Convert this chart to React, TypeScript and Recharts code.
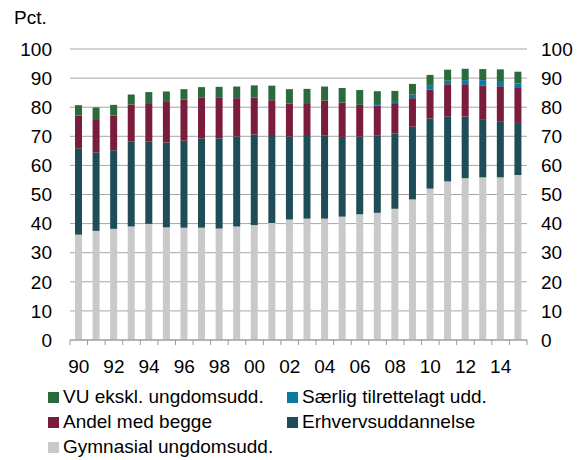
import React from 'react';
import { ComposedChart, Bar, Line, XAxis, YAxis, CartesianGrid } from 'recharts';

const years = [
  '90', '91', '92', '93', '94', '95', '96', '97', '98', '99', '00', '01', '02',
  '03', '04', '05', '06', '07', '08', '09', '10', '11', '12', '13', '14', '15',
];
const gymnasial = [
  36.2, 37.5, 38.2, 39.0, 39.9, 38.7, 38.6, 38.6, 38.3, 39.0, 39.5, 40.2, 41.4,
  41.7, 41.7, 42.4, 43.2, 43.7, 45.1, 48.3, 52.0, 54.5, 55.6, 55.9, 55.9, 56.7,
];
const erhverv = [
  29.7, 27.0, 27.0, 29.3, 28.4, 29.2, 29.9, 30.7, 31.0, 31.0, 31.1, 29.9, 28.6,
  28.4, 28.5, 27.4, 26.7, 26.5, 25.9, 25.0, 24.1, 22.4, 21.2, 20.0, 19.3, 17.9,
];
const begge = [
  11.2, 11.4, 11.9, 12.6, 13.1, 13.9, 14.1, 14.1, 14.1, 13.1, 12.7, 12.3, 11.3,
  11.3, 12.1, 11.8, 10.9, 10.4, 10.4, 9.8, 10.0, 11.0, 11.1, 11.6, 12.0, 12.0,
];
const saerlig = [
  0, 0, 0, 0, 0, 0, 0, 0, 0, 0, 0, 0, 0,
  0, 0, 0, 0, 0.5, 0.4, 1.2, 1.5, 1.2, 1.4, 1.8, 1.8, 1.6,
];
const vu = [
  3.6, 4.0, 3.7, 3.5, 3.8, 3.6, 3.6, 3.5, 3.6, 4.0, 4.2, 5.0, 4.9,
  4.9, 4.8, 5.0, 5.1, 4.4, 3.8, 3.7, 3.5, 3.8, 3.9, 3.8, 4.0, 4.0,
];
const yTicks = [0, 10, 20, 30, 40, 50, 60, 70, 80, 90, 100];

const data = years.map((year, i) => ({
  year,
  gymnasial: gymnasial[i],
  erhverv: erhverv[i],
  begge: begge[i],
  saerlig: saerlig[i],
  vu: vu[i],
}));

const COLORS = {
  vu: '#2a6a3d',
  saerlig: '#0b7aa1',
  begge: '#7a1c3c',
  erhverv: '#1f4d57',
  gymnasial: '#c9c9c9',
};

const FONT = 'Arial, "Liberation Sans", sans-serif';
const FS = 19;
const W = 584;
const H = 460;
const LEFT = 70;
const RIGHT = 57;
const band = (W - LEFT - RIGHT) / years.length;

const XTick = ({ x, y, payload, index }: any) => {
  const last = index === years.length - 1;
  return (
    <g>
      <line x1={x - band / 2} x2={x - band / 2} y1={y} y2={y + 5} stroke="#999" />
      {last && <line x1={x + band / 2} x2={x + band / 2} y1={y} y2={y + 5} stroke="#999" />}
      {index % 2 === 0 && (
        <text x={x} y={y + 33} textAnchor="middle" fontSize={FS} fill="#000" fontFamily={FONT}>
          {payload.value}
        </text>
      )}
    </g>
  );
};

const legendItems = [
  { key: 'vu', label: 'VU ekskl. ungdomsudd.' },
  { key: 'saerlig', label: 'Særlig tilrettelagt udd.' },
  { key: 'begge', label: 'Andel med begge' },
  { key: 'erhverv', label: 'Erhvervsuddannelse' },
  { key: 'gymnasial', label: 'Gymnasial ungdomsudd.' },
];

export default function App() {
  return (
    <div style={{ position: 'absolute', left: 0, top: 0, width: W, height: H, background: '#fff', fontFamily: FONT }}>
      <div style={{ position: 'absolute', left: 14, top: 7, fontSize: FS, color: '#000' }}>Pct.</div>
      <ComposedChart
        width={W}
        height={H}
        data={data}
        margin={{ top: 49, right: 0, left: 0, bottom: 90 }}
        barSize={7}
      >
        <CartesianGrid vertical={false} stroke="#a6a6a6" yAxisId="left" />
        <XAxis
          dataKey="year"
          interval={0}
          tickLine={false}
          tickSize={0}
          tickMargin={0}
          axisLine={{ stroke: '#999' }}
          height={30}
          tick={<XTick />}
        />
        <YAxis
          yAxisId="left"
          orientation="left"
          width={LEFT}
          domain={[0, 100]}
          ticks={yTicks}
          tickLine={false}
          axisLine={false}
          tickSize={0}
          tickMargin={18}
          tick={{ fontSize: FS, fill: '#000', fontFamily: FONT }}
        />
        <YAxis
          yAxisId="right"
          orientation="right"
          width={RIGHT}
          domain={[0, 100]}
          ticks={yTicks}
          tickLine={false}
          axisLine={false}
          tickSize={0}
          tickMargin={14}
          tick={{ fontSize: FS, fill: '#000', fontFamily: FONT }}
        />
        <Bar yAxisId="left" dataKey="gymnasial" stackId="a" fill={COLORS.gymnasial} isAnimationActive={false} />
        <Bar yAxisId="left" dataKey="erhverv" stackId="a" fill={COLORS.erhverv} isAnimationActive={false} />
        <Bar yAxisId="left" dataKey="begge" stackId="a" fill={COLORS.begge} isAnimationActive={false} />
        <Bar yAxisId="left" dataKey="saerlig" stackId="a" fill={COLORS.saerlig} isAnimationActive={false} />
        <Bar yAxisId="left" dataKey="vu" stackId="a" fill={COLORS.vu} isAnimationActive={false} />
        {/* invisible series so the right-hand axis gets drawn */}
        <Line yAxisId="right" dataKey="gymnasial" stroke="none" dot={false} activeDot={false} isAnimationActive={false} />
      </ComposedChart>
      <div
        style={{
          position: 'absolute',
          left: 48,
          top: 386,
          display: 'grid',
          gridTemplateColumns: '239px 260px',
          rowGap: 3,
          fontSize: FS,
          lineHeight: '22px',
          color: '#000',
        }}
      >
        {legendItems.map((item) => (
          <div key={item.key} style={{ display: 'flex', alignItems: 'center', whiteSpace: 'nowrap' }}>
            <span
              style={{
                display: 'inline-block',
                width: 11,
                height: 11,
                background: COLORS[item.key as keyof typeof COLORS],
                marginRight: 4,
              }}
            />
            {item.label}
          </div>
        ))}
      </div>
    </div>
  );
}
